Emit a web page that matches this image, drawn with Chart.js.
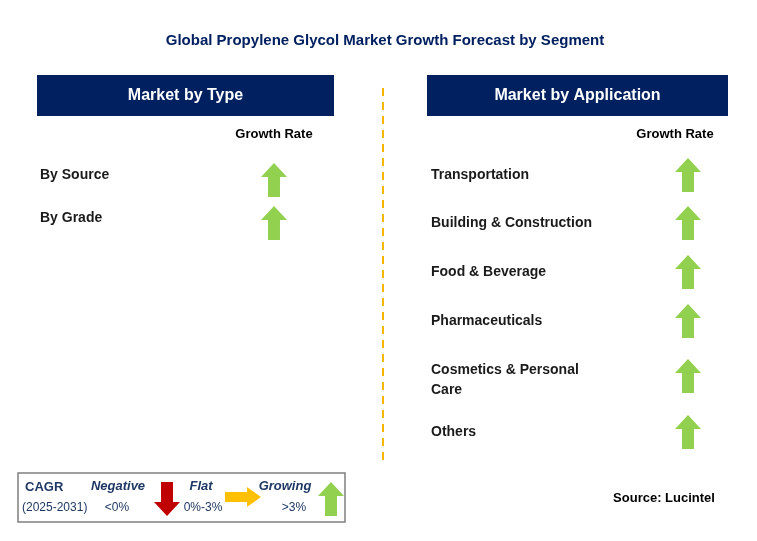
<!DOCTYPE html>
<html>
<head>
<meta charset="utf-8">
<script src="https://cdn.jsdelivr.net/npm/chart.js@4"></script>
<style>
  html, body { margin: 0; padding: 0; background: #fff; }
  #wrap { width: 757px; height: 541px; }
</style>
</head>
<body>
<div id="wrap"><canvas id="chart"></canvas></div>
<script>
"use strict";

// Data
const typeSegments = ['By Source', 'By Grade'];
const typeGrowth = ['up', 'up'];
const appSegments = ['Transportation', 'Building & Construction', 'Food & Beverage', 'Pharmaceuticals', ['Cosmetics & Personal', 'Care'], 'Others'];
const appGrowth = ['up', 'up', 'up', 'up', 'up', 'up'];
const legendLabels = ['Negative', 'Flat', 'Growing'];
const legendRanges = ['<0%', '0%-3%', '>3%'];
const legendArrows = ['down', 'right', 'up'];

// Layout (page pixels)
const typeRowY = [180, 223];
const appRowY = [175, 223, 272, 321, 376, 432];
const NAVY = '#002060';
const FONT = '"Liberation Sans", Arial, sans-serif';
const COLORS = { up: '#92D050', down: '#C00000', right: '#FFC000' };

// Arrow images used as point styles
const makeArrow = (dir) => {
    const w = dir === 'right' ? 36 : 26, h = dir === 'right' ? 20 : 34;
    const c = document.createElement('canvas');
    c.width = w; c.height = h;
    const g = c.getContext('2d');
    g.fillStyle = COLORS[dir];
    g.beginPath();
    if (dir === 'up') {
        g.moveTo(w / 2, 0); g.lineTo(w, 14); g.lineTo(w * 0.73, 14); g.lineTo(w * 0.73, h);
        g.lineTo(w * 0.27, h); g.lineTo(w * 0.27, 14); g.lineTo(0, 14);
    } else if (dir === 'down') {
        g.moveTo(w / 2, h); g.lineTo(w, h - 14); g.lineTo(w * 0.73, h - 14); g.lineTo(w * 0.73, 0);
        g.lineTo(w * 0.27, 0); g.lineTo(w * 0.27, h - 14); g.lineTo(0, h - 14);
    } else {
        g.moveTo(w, h / 2); g.lineTo(w - 14, 0); g.lineTo(w - 14, h * 0.25); g.lineTo(0, h * 0.25);
        g.lineTo(0, h * 0.75); g.lineTo(w - 14, h * 0.75); g.lineTo(w - 14, h);
    }
    g.closePath();
    g.fill();
    return c;
};
const ARROWS = { up: makeArrow('up'), down: makeArrow('down'), right: makeArrow('right') };

const typePoints = typeGrowth.map((d, i) => ({ x: 274, y: typeRowY[i], dir: d }));
const appPoints = appGrowth.map((d, i) => ({ x: 688, y: appRowY[i], dir: d }));
const legendX = [167, 243, 331];
const legendY = [499, 497, 499];
const legendPoints = legendArrows.map((d, i) => ({ x: legendX[i], y: legendY[i], dir: d }));

// Static texts / boxes
const decorPlugin = {
    id: 'decor',
    beforeDatasetsDraw(chart) {
        const ctx = chart.ctx;
        const sx = chart.scales.x, sy = chart.scales.y;
        const px = v => sx.getPixelForValue(v), py = v => sy.getPixelForValue(v);
        ctx.save();
        ctx.textBaseline = 'middle';

        // Title
        ctx.fillStyle = NAVY;
        ctx.font = `bold 15px ${FONT}`;
        ctx.textAlign = 'center';
        ctx.fillText('Global Propylene Glycol Market Growth Forecast by Segment', px(385), py(41));

        // Headers
        [[37, 334, 'Market by Type'], [427, 728, 'Market by Application']].forEach(([l, r, t]) => {
            ctx.fillStyle = NAVY;
            ctx.fillRect(px(l), py(75), px(r) - px(l), py(116) - py(75));
            ctx.fillStyle = '#fff';
            ctx.font = `bold 16px ${FONT}`;
            ctx.fillText(t, (px(l) + px(r)) / 2, py(96));
        });

        // Growth rate captions
        ctx.fillStyle = '#000';
        ctx.font = `bold 13px ${FONT}`;
        ctx.fillText('Growth Rate', px(274), py(134));
        ctx.fillText('Growth Rate', px(675), py(134));

        // Segment labels
        ctx.textAlign = 'left';
        ctx.font = `bold 14px ${FONT}`;
        ctx.fillStyle = '#1a1a1a';
        typeSegments.forEach((s, i) => ctx.fillText(s, px(40), py(typeRowY[i] - 5)));
        appSegments.forEach((s, i) => {
            const lines = Array.isArray(s) ? s : [s];
            const y0 = appRowY[i] - (lines.length > 1 ? 6 : 0);
            lines.forEach((ln, j) => ctx.fillText(ln, px(431), py(y0 + j * 20)));
        });

        // Divider
        ctx.strokeStyle = '#F5B400';
        ctx.lineWidth = 2;
        ctx.setLineDash([8, 6]);
        ctx.beginPath();
        ctx.moveTo(px(383), py(88));
        ctx.lineTo(px(383), py(462));
        ctx.stroke();
        ctx.setLineDash([]);

        // Legend box
        ctx.strokeStyle = '#7f7f7f';
        ctx.lineWidth = 1.5;
        ctx.strokeRect(px(18), py(473), px(345) - px(18), py(522) - py(473));
        ctx.fillStyle = '#1F3864';
        ctx.font = `bold 13px ${FONT}`;
        ctx.fillText('CAGR', px(25), py(487));
        ctx.font = `12px ${FONT}`;
        ctx.fillText('(2025-2031)', px(22), py(508));
        ctx.textAlign = 'center';
        const lx = [118, 201, 285], rx = [117, 203, 294];
        legendLabels.forEach((t, i) => {
            ctx.font = `bold italic 13px ${FONT}`;
            ctx.fillText(t, px(lx[i]), py(486));
            ctx.font = `12px ${FONT}`;
            ctx.fillText(legendRanges[i], px(rx[i]), py(508));
        });

        // Source
        ctx.fillStyle = '#000';
        ctx.font = `bold 13px ${FONT}`;
        ctx.fillText('Source: Lucintel', px(664), py(498));
        ctx.restore();
    }
};

const arrowDataset = (pts) => ({
    data: pts,
    pointStyle: pts.map(p => ARROWS[p.dir]),
    pointRadius: 10,
    clip: false
});

new Chart(document.getElementById('chart').getContext('2d'), {
    type: 'scatter',
    data: { datasets: [arrowDataset(typePoints), arrowDataset(appPoints), arrowDataset(legendPoints)] },
    options: {
        responsive: true,
        maintainAspectRatio: false,
        animation: false,
        layout: { padding: 0, autoPadding: false },
        plugins: { legend: { display: false }, tooltip: { enabled: false } },
        events: [],
        scales: {
            x: { type: 'linear', min: 0, max: 757, display: false },
            y: { type: 'linear', min: 0, max: 541, reverse: true, display: false }
        }
    },
    plugins: [decorPlugin]
});
</script>
</body>
</html>
